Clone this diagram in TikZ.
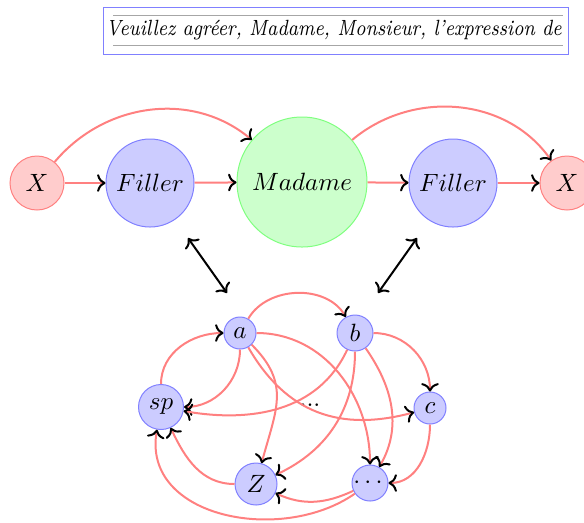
\documentclass[tikz,border=0pt]{standalone}
\usepackage{tikz}
\usetikzlibrary{arrows.meta, positioning, calc}
\usepackage{amsmath, amssymb}

\tikzset{
  xnode/.style={circle, draw=red!50, fill=red!20, minimum size=21.6pt, inner sep=0pt},
  fillernode/.style={circle, draw=blue!50, fill=blue!20, minimum size=35.2pt, inner sep=0pt},
  wordnode/.style={circle, draw=green!50, fill=green!20, minimum size=52pt, inner sep=0pt},
  statenode/.style={circle, draw=blue!50, fill=blue!20, inner sep=0pt},
  edge/.style={-{To[color=black]}, red!50, thick},
  link/.style={{To}-{To}, black, thick}
}

\begin{document}
\begin{tikzpicture}[x=0.4pt, y=0.4pt]
  \useasboundingbox (0,0) rectangle (584,-522);

  % handwritten line
  \node[draw=blue!50, minimum width=185.6pt, minimum height=18.8pt, inner sep=0pt] (hw) at (336,-30.5) {};
  \draw[gray!70] (113,-15) coordinate (hwtl) -- (563,-15) coordinate (hwtr);
  \draw[gray!70] (113,-45) coordinate (hwbl) -- (563,-45) coordinate (hwbr);
  \node (hwtext) at (334,-30) {\scalebox{0.94}[1.1]{\footnotesize\itshape Veuillez agréer, Madame, Monsieur, l'expression de}};

  % top chain
  \node[xnode] (x1) at (37,-183) {$X$};
  \node[fillernode] (f1) at (150,-183) {$Filler$};
  \node[wordnode] (m) at (302,-182) {$Madame$};
  \node[fillernode] (f2) at (453,-183) {$Filler$};
  \node[xnode] (x2) at (567,-183) {$X$};

  \draw[edge] (x1) -- (f1);
  \draw[edge] (f1) -- (m);
  \draw[edge] (m) -- (f2);
  \draw[edge] (f2) -- (x2);
  \draw[edge] (x1) to[out=50, in=140] (m);
  \draw[edge] (m) to[out=40, in=125] (x2);

  % links to the state graph
  \coordinate (l1a) at (188,-238);
  \coordinate (l1b) at (227,-293);
  \coordinate (l2a) at (417,-238);
  \coordinate (l2b) at (378,-293);
  \draw[link] (l1a) -- (l1b);
  \draw[link] (l2a) -- (l2b);

  % state graph
  \node[statenode, minimum size=12.8pt] (a) at (240,-333) {$a$};
  \node[statenode, minimum size=14.4pt] (b) at (355,-333) {$b$};
  \node[statenode, minimum size=18pt] (sp) at (161,-407) {$sp$};
  \node[statenode, minimum size=12.8pt] (c) at (430,-408) {$c$};
  \node[statenode, minimum size=16.8pt] (z) at (256,-484) {$Z$};
  \node[statenode, minimum size=14.4pt] (dd) at (370,-483) {$\cdots$};
  \node (dots) at (310,-405) {...};

  \draw[edge] (sp) to[out=90, in=180] (a);
  \draw[edge] (a) to[out=60, in=120] (b);
  \draw[edge] (a) to[out=-90, in=0] (sp);
  \draw[edge] (b) to[out=-115, in=-10] (sp);
  \draw[edge] (a) to[out=-60, in=195, looseness=1.1] (c);
  \draw[edge] (a) to[out=-45, in=75, looseness=1.2] (z);
  \draw[edge] (a) to[out=0, in=90] (dd);
  \draw[edge] (b) to[out=0, in=90] (c);
  \draw[edge] (b) to[out=-90, in=25] (z);
  \draw[edge] (b) to[out=-55, in=60] (dd);
  \draw[edge] (c) to[out=-90, in=0] (dd);
  \draw[edge] (z) to[out=180, in=-65] (sp);
  \draw[edge] (dd) to[out=205, in=-25] (z);
  \draw[edge] (dd) to[out=215, in=-100, looseness=1.1] (sp);
\end{tikzpicture}
\end{document}
